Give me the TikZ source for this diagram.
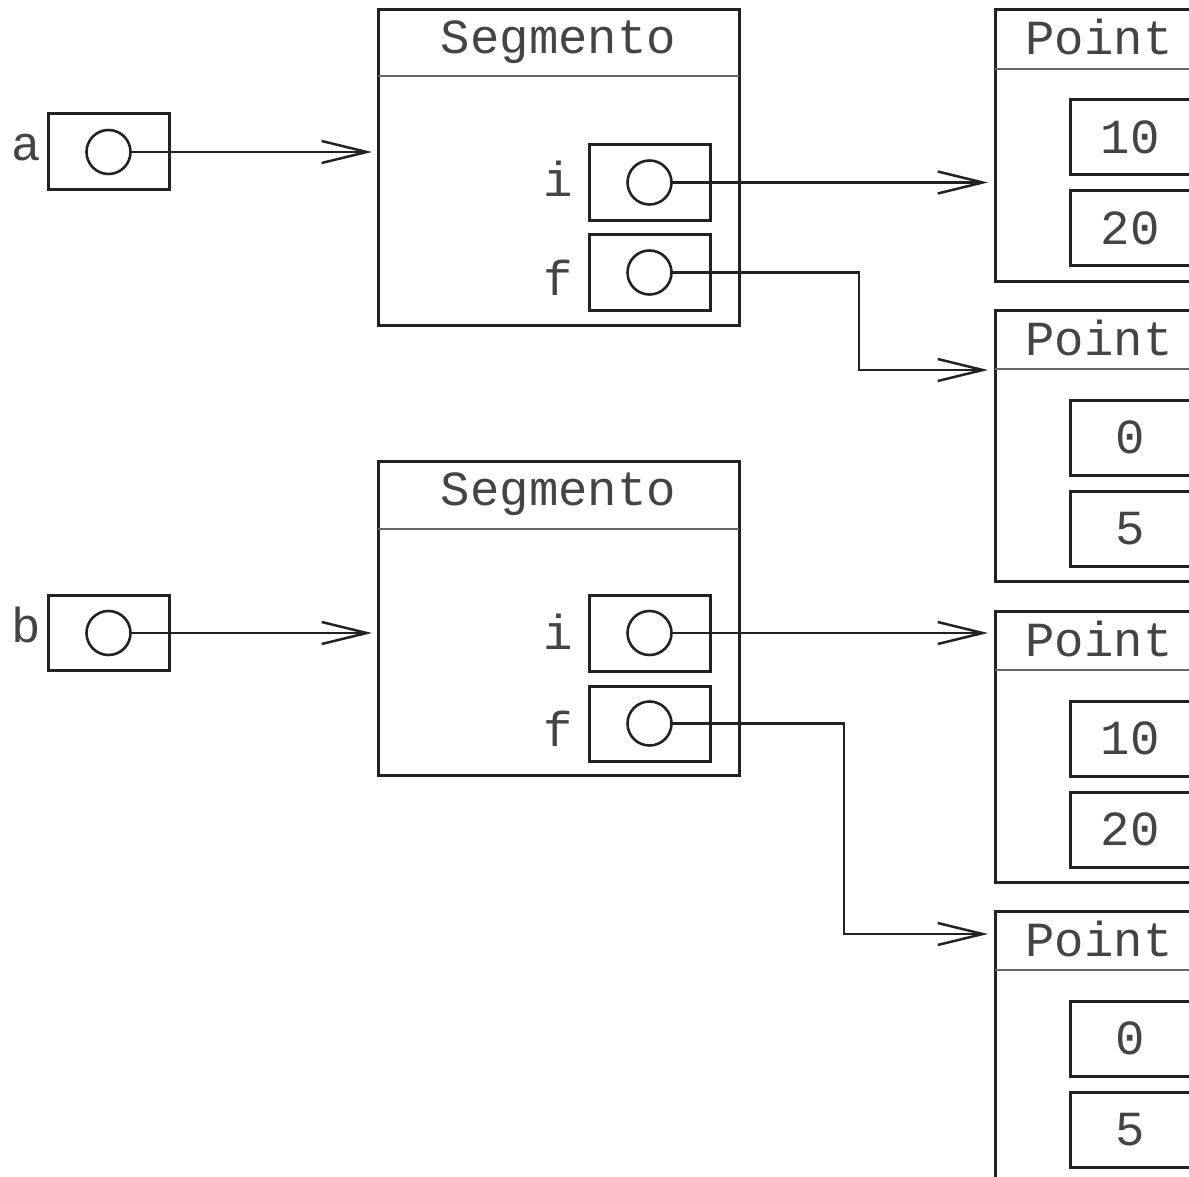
\documentclass[tikz,border=0pt]{standalone}
\usepackage{fontspec}
\setmonofont{Liberation Mono}
\usetikzlibrary{arrows.meta,calc}
\definecolor{ln}{HTML}{222222}
\definecolor{txtc}{HTML}{444444}
\definecolor{hdrc}{HTML}{666666}
\newcommand\PointObj[4]{%
  \node[objbox, minimum width=208pt, minimum height=271pt, anchor=north west] (#1) at (995,#2) {};
  \draw[hdr] ([yshift=-59pt]#1.north west) -- ([yshift=-59pt]#1.north east);
  \node[lbl] (#1t) at ([yshift=-45pt]#1.north) {Point};
  \node[cell, anchor=north west] (#1a) at ([xshift=75pt,yshift=-90pt]#1.north west) {};
  \node[lbl] (#1av) at ([yshift=-16pt]#1a.center) {#3};
  \node[cell, anchor=north west] (#1b) at ([xshift=75pt,yshift=-181pt]#1.north west) {};
  \node[lbl] (#1bv) at ([yshift=-16pt]#1b.center) {#4};
}
\begin{document}
\begin{tikzpicture}[x=1pt,y=-1pt,
  objbox/.style={draw=ln, line width=3pt, inner sep=0pt, outer sep=0pt, rectangle},
  cell/.style={draw=ln, line width=3pt, inner sep=0pt, outer sep=0pt, rectangle, minimum width=120pt, minimum height=75pt},
  ptr/.style={circle, draw=ln, line width=2.6pt, minimum size=44pt, inner sep=0pt, outer sep=0pt},
  hdr/.style={draw=hdrc, line width=1.6pt},
  lbl/.style={font=\fontsize{49}{58}\selectfont\ttfamily, text=txtc, inner sep=0pt, anchor=base},
  conn/.style={draw=ln, line width=2.5pt, -{Straight Barb[length=45pt,width=22pt]}, shorten >=6pt}
]
\useasboundingbox (0,0) rectangle (1189,1177);
\clip (0,0) rectangle (1189,1177);

% variable a
\node[cell, minimum width=121pt, minimum height=76pt] (va) at (108.5,152) {};
\node[ptr] (vac) at (va.center) {};
\node[lbl] (val) at (26,161) {a};

% variable b
\node[cell, minimum width=121pt, minimum height=75pt] (vb) at (108.5,633) {};
\node[ptr] (vbc) at (vb.center) {};
\node[lbl] (vbl) at (26,642) {b};

% Segmento 1
\node[objbox, minimum width=361pt, minimum height=315pt] (seg1) at (558.5,167.5) {};
\draw[hdr] ([yshift=-66pt]seg1.north west) -- ([yshift=-66pt]seg1.north east);
\node[lbl] (seg1t) at (558.5,54) {Segmento};
\node[cell, minimum width=121pt, minimum height=76pt] (seg1i) at (649.5,182.5) {};
\node[ptr] (seg1ic) at (seg1i.center) {};
\node[lbl] (seg1il) at (558,197) {i};
\node[cell, minimum width=121pt, minimum height=76pt] (seg1f) at (649.5,272.5) {};
\node[ptr] (seg1fc) at (seg1f.center) {};
\node[lbl] (seg1fl) at (558,295) {f};

% Segmento 2
\node[objbox, minimum width=361pt, minimum height=314pt] (seg2) at (558.5,618) {};
\draw[hdr] ([yshift=-68pt]seg2.north west) -- ([yshift=-68pt]seg2.north east);
\node[lbl] (seg2t) at (558.5,505) {Segmento};
\node[cell, minimum width=121pt, minimum height=76pt] (seg2i) at (649.5,633) {};
\node[ptr] (seg2ic) at (seg2i.center) {};
\node[lbl] (seg2il) at (558,649) {i};
\node[cell, minimum width=121pt, minimum height=75pt] (seg2f) at (649.5,723.5) {};
\node[ptr] (seg2fc) at (seg2f.center) {};
\node[lbl] (seg2fl) at (558,746) {f};

% Points
\PointObj{pt1}{10}{10}{20}
\PointObj{pt2}{310}{0}{5}
\PointObj{pt3}{611}{10}{20}
\PointObj{pt4}{911}{0}{5}

% connectors
\coordinate (k1) at (859,370);
\coordinate (k2) at (844,934);
\draw[conn] (vac.east) -- (seg1.west |- vac.east);
\draw[conn] (vbc.east) -- (seg2.west |- vbc.east);
\draw[conn, shorten >=7pt] (seg1ic.east) -- (pt1.west |- seg1ic.east);
\draw[conn, shorten >=7pt] (seg1fc.east) -| (k1) -- (pt2.west |- k1);
\draw[conn, shorten >=7pt] (seg2ic.east) -- (pt3.west |- seg2ic.east);
\draw[conn, shorten >=7pt] (seg2fc.east) -| (k2) -- (pt4.west |- k2);
\end{tikzpicture}
\end{document}
